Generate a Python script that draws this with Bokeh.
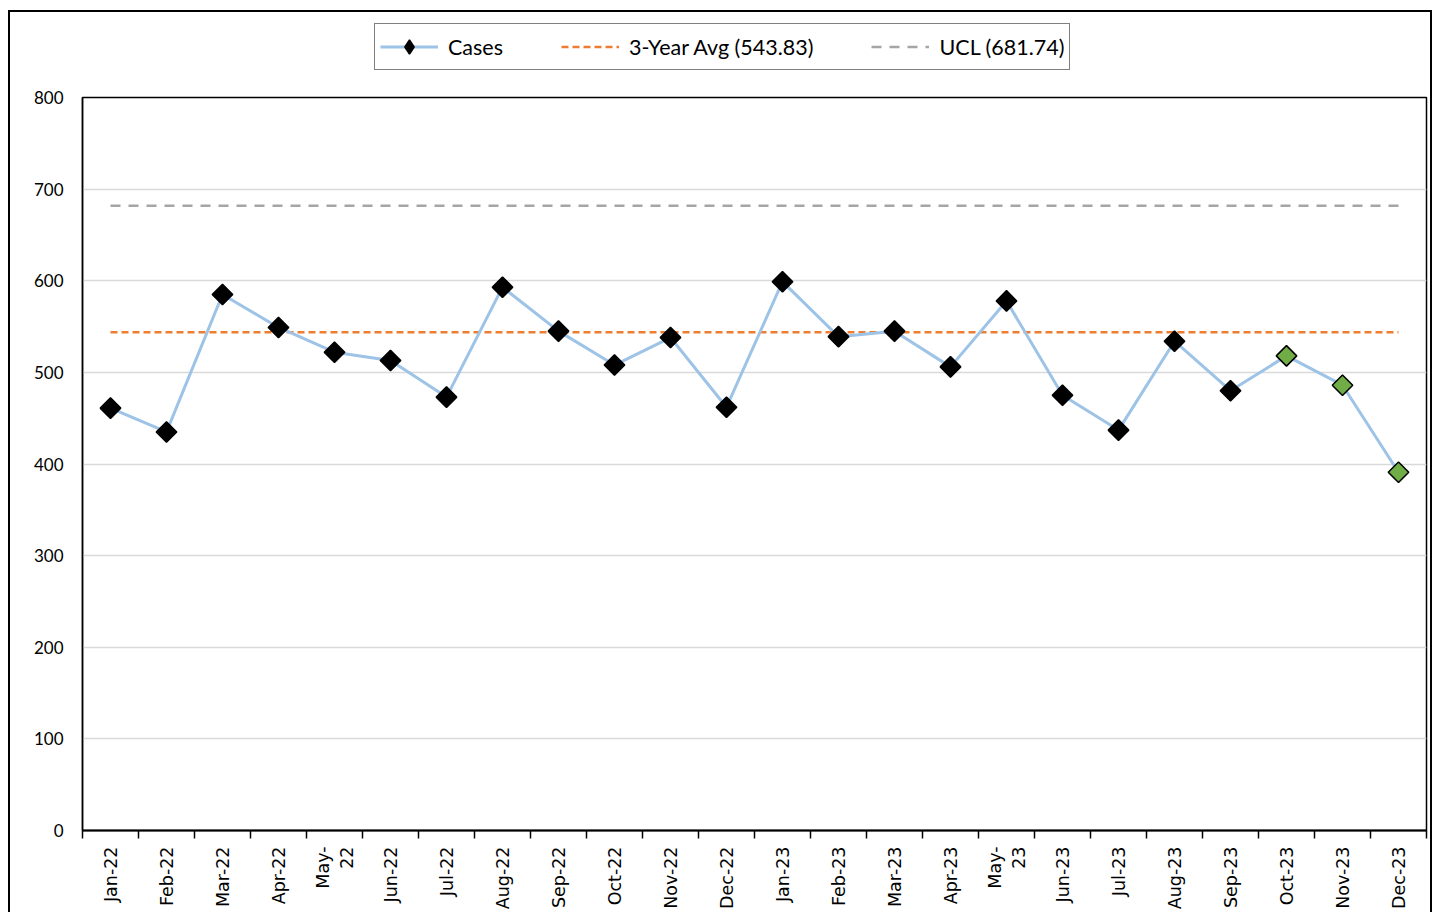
import math
from bokeh.plotting import figure
from bokeh.layouts import column
from bokeh.models import (ColumnDataSource, FixedTicker, Legend, LegendItem, Range1d)
from bokeh.embed import file_html
from bokeh.resources import INLINE

# ---- data ----
months = ["Jan-22", "Feb-22", "Mar-22", "Apr-22", "May-22", "Jun-22",
          "Jul-22", "Aug-22", "Sep-22", "Oct-22", "Nov-22", "Dec-22",
          "Jan-23", "Feb-23", "Mar-23", "Apr-23", "May-23", "Jun-23",
          "Jul-23", "Aug-23", "Sep-23", "Oct-23", "Nov-23", "Dec-23"]
tick_labels = ["Jan-22", "Feb-22", "Mar-22", "Apr-22", "May-\n22", "Jun-22",
               "Jul-22", "Aug-22", "Sep-22", "Oct-22", "Nov-22", "Dec-22",
               "Jan-23", "Feb-23", "Mar-23", "Apr-23", "May-\n23", "Jun-23",
               "Jul-23", "Aug-23", "Sep-23", "Oct-23", "Nov-23", "Dec-23"]
cases = [461, 435, 585, 549, 522, 513, 473, 593, 545, 508, 538, 462,
         599, 539, 545, 506, 578, 475, 437, 534, 480, 518, 486, 391]
avg_value = 543.83
ucl_value = 681.74
highlighted = ["Oct-23", "Nov-23", "Dec-23"]
y_ticks = [0, 100, 200, 300, 400, 500, 600, 700, 800]
legend_labels = ["Cases", "3-Year Avg (%.2f)" % avg_value, "UCL (%.2f)" % ucl_value]

xs = list(range(len(months)))
normal = [i for i, m in enumerate(months) if m not in highlighted]
hi = [i for i, m in enumerate(months) if m in highlighted]

src_all = ColumnDataSource(dict(x=xs, y=cases, month=months))
src_norm = ColumnDataSource(dict(x=[xs[i] for i in normal], y=[cases[i] for i in normal]))
src_hi = ColumnDataSource(dict(x=[xs[i] for i in hi], y=[cases[i] for i in hi]))

CASE_COLOR = "#9DC3E6"
AVG_COLOR = "#ED7D31"
UCL_COLOR = "#A5A5A5"

# ---------------- main chart ----------------
p = figure(frame_width=1344, frame_height=733, output_backend="svg",
           toolbar_location=None,
           x_range=Range1d(-0.5, len(months) - 0.5), y_range=Range1d(0, 800),
           min_border_left=82, min_border_right=6, min_border_top=12,
           min_border_bottom=10)
p.border_fill_alpha = 0

p.outline_line_color = "black"
p.outline_line_width = 1.5

p.xgrid.grid_line_color = None
p.ygrid.grid_line_color = "#D9D9D9"
p.ygrid.grid_line_width = 1.5
p.yaxis.ticker = FixedTicker(ticks=y_ticks)

p.yaxis.axis_line_color = "black"
p.yaxis.axis_line_width = 1.5
p.yaxis.major_tick_line_color = None
p.yaxis.major_tick_out = 0
p.yaxis.major_tick_in = 0
p.yaxis.minor_tick_line_color = None
p.yaxis.major_label_standoff = 19
p.yaxis.major_label_text_font = "Lato"
p.yaxis.major_label_text_font_size = "17px"
p.yaxis.major_label_text_color = "black"

p.xaxis.ticker = FixedTicker(ticks=xs, minor_ticks=[i - 0.5 for i in range(len(months) + 1)])
p.xaxis.major_label_overrides = {i: lbl for i, lbl in enumerate(tick_labels)}
p.xaxis.axis_line_color = "black"
p.xaxis.axis_line_width = 2
p.xaxis.major_tick_line_color = None
p.xaxis.major_tick_out = 0
p.xaxis.major_tick_in = 0
p.xaxis.minor_tick_line_color = "black"
p.xaxis.minor_tick_line_width = 1.5
p.xaxis.minor_tick_out = 8
p.xaxis.minor_tick_in = 0
p.xaxis.major_label_orientation = math.pi / 2
p.xaxis.major_label_standoff = 8
p.xaxis.major_label_text_font = "DejaVu Sans"
p.xaxis.major_label_text_font_size = "17.5px"
p.xaxis.major_label_text_color = "black"

p.line([xs[0], xs[-1]], [ucl_value, ucl_value], line_color=UCL_COLOR,
       line_width=2.5, line_dash="10 8")
p.line([xs[0], xs[-1]], [avg_value, avg_value], line_color=AVG_COLOR,
       line_width=2.5, line_dash="7 4")
p.line("x", "y", source=src_all, line_color=CASE_COLOR, line_width=3)
p.scatter("x", "y", source=src_norm, marker="square", angle=math.pi / 4,
          size=14.5, fill_color="black", line_color="black", line_width=1.5)
p.scatter("x", "y", source=src_hi, marker="square", angle=math.pi / 4,
          size=14.5, fill_color="#70AD47", line_color="black", line_width=1.5)

# ---------------- legend strip ----------------
lg = figure(width=1432, height=85, output_backend="svg", toolbar_location=None,
            x_range=Range1d(0, 1), y_range=Range1d(0, 1),
            min_border=0, x_axis_type=None, y_axis_type=None)
lg.border_fill_alpha = 0
lg.background_fill_alpha = 0
lg.outline_line_color = None
lg.grid.grid_line_color = None

# legend proxies drawn outside the visible range
r_case_line = lg.line([5, 6], [5, 5], line_color=CASE_COLOR, line_width=3)
r_case_mark = lg.scatter([5], [5], marker="diamond",
                         fill_color="black", line_color="black", line_width=1.5)
r_avg = lg.line([5, 6], [5, 5], line_color=AVG_COLOR, line_width=2.5, line_dash="7 4")
r_ucl = lg.line([5, 6], [5, 5], line_color=UCL_COLOR, line_width=2.5, line_dash="10 8")

legend = Legend(items=[
    LegendItem(label=legend_labels[0], renderers=[r_case_line, r_case_mark]),
    LegendItem(label=legend_labels[1], renderers=[r_avg]),
    LegendItem(label=legend_labels[2], renderers=[r_ucl]),
], orientation="horizontal", location=(292, 15),
    border_line_color="black", border_line_width=1.5,
    label_text_font="Lato", label_text_font_size="21.5px",
    label_text_color="black", background_fill_color="white",
    background_fill_alpha=1,
    glyph_width=58, glyph_height=35, spacing=58, padding=5,
    label_standoff=10, margin=0)
lg.add_layout(legend, "center")

layout = column(lg, p, spacing=0)
layout.styles = {
    "background": ("linear-gradient(#000,#000) 8px 10px / 2px 100% no-repeat, "
                   "linear-gradient(#000,#000) 8px 10px / 100% 2px no-repeat, "
                   "linear-gradient(#000,#000) right 0px top 10px / 2px 100% no-repeat, "
                   "#ffffff")
}

open("out.html", "w").write(file_html(layout, INLINE))
